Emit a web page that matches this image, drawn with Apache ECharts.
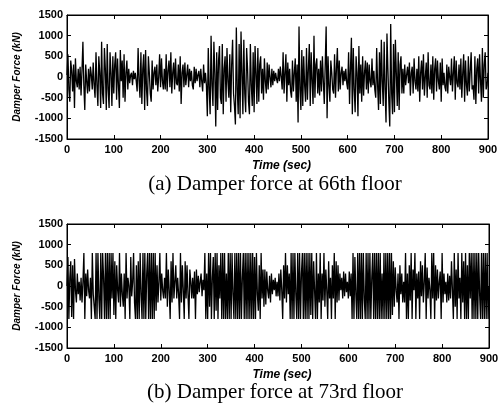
<!DOCTYPE html>
<html>
<head>
<meta charset="utf-8">
<script src="https://cdn.jsdelivr.net/npm/echarts@6/dist/echarts.min.js"></script>
<style>
  html, body { margin: 0; padding: 0; background: #fff; }
  #chart { width: 503px; height: 403px; }
</style>
</head>
<body>
<div id="chart"></div>
<script>
// sample step of the records (sec)
var dt = 2
var xTicks = [0, 100, 200, 300, 400, 500, 600, 700, 800, 900]
var yTicks = [-1500, -1000, -500, 0, 500, 1000, 1500]
var captions = ['(a) Damper force at 66th floor', '(b) Damper force at 73rd floor']

// damper force (kN), 66th floor, every 2 s (one row = 30 s)
var force66 = [
  50, 550, -300, -600, 400, 150, -350, 300, -750, 450, -100, -250, 200, -300, 250,
  -450, 150, 850, -200, -800, 300, -100, -400, 200, -350, 250, 50, -300, 350, -200,
  -500, 600, -200, -700, 500, 100, -750, 850, -400, -650, 700, 200, -800, 800, -300,
  -750, 600, 100, -700, 500, -400, 300, 600, -550, 450, -200, -750, 650, -100, 400,
  -500, 550, -600, 100, 400, -300, 200, -150, 50, 100, -200, 150, -50, 100, -100,
  -350, 700, -100, -500, 600, -650, 200, 550, -800, 650, -300, -700, 500, 100, -400,
  -600, 400, -300, 100, 250, -200, 300, -350, 0, 550, -250, 450, -100, -300, 200,
  -300, 550, -350, 150, 400, -250, 600, -400, 100, 350, -300, 450, -150, -200, 300,
  -350, 500, -650, 100, 300, -250, 350, -200, 50, 300, -250, 200, -100, 150, -200,
  -300, 250, -150, 200, -100, 50, 150, -250, 200, -100, -350, 300, -150, 100, -200,
  -950, 700, -300, -900, 1000, -200, -700, 850, 100, -1200, 600, -800, 400, 750, -500,
  -650, 800, -900, 200, 500, -600, 700, -100, -500, 550, -850, 300, 900, -400, -700,
  -1150, 1200, -300, -900, 800, -1000, 1100, 100, -900, 900, -400, -850, 700, 200, -600,
  -900, 800, -200, -700, 600, -850, 750, 100, -650, 700, -600, 300, 500, -400, 200,
  -550, 450, -100, -400, 350, -300, 300, 0, -250, 200, -200, 150, -100, 100, -50,
  -150, 200, -100, 250, 0, -300, 600, -400, 100, 550, -600, 350, -200, 200, -350,
  -500, 400, -350, 100, 450, -600, 300, -1100, 1220, -300, -800, 650, -700, 500, -200,
  -600, 700, -550, 200, 800, -700, 600, -100, -650, 1000, -500, 300, 450, -400, 200,
  -450, 400, -350, 500, -100, -650, 300, 1220, -1000, 500, -200, -600, 400, 100, -300,
  -400, 550, -500, 200, 700, -350, 400, -300, 100, 250, -200, 150, -100, 200, -150,
  -300, 600, -650, 200, 950, -900, 700, -300, -850, 500, 100, -950, 750, -400, 300,
  -600, 500, -450, 100, 400, -300, 350, -400, 300, -100, -250, 450, -200, 150, -300,
  -500, 700, -200, -800, 600, -650, 900, -100, -700, 850, -300, -1100, 1050, 200, -600,
  -1200, 1280, -400, -900, 800, -850, 900, 100, -700, 600, -800, 300, 500, -400, 200,
  -400, 300, -200, 50, 250, -150, 350, -450, 100, 250, -400, 450, -100, -300, 200,
  -350, 500, -600, 100, 400, -300, 550, -450, 0, 350, -500, 600, -200, -300, 300,
  -400, 500, -550, 200, 450, -350, 400, -100, -300, 350, -600, 450, -200, 100, -250,
  -350, 300, -400, 250, 0, -200, 450, -350, 100, 500, -550, 400, -150, -250, 300,
  -300, 450, -500, 100, 550, -600, 400, -200, -450, 500, -350, 150, 600, -300, -200,
  -550, 500, -650, 200, 450, -400, 550, -100, -600, 700, -500, 300, 600, -300, -200,
  100
]

// damper force (kN), 73rd floor, saturates near +/-800
var force73 = [
  0, 700, -800, 200, 600, -750, 500, -800, 650, -100, -400, 300, -200, 100, -350,
  200, -400, 100, 800, -800, 300, -250, 400, -100, -300, 200, -800, 800, -200, -500,
  -800, 800, -800, 800, -300, -800, 800, -800, 800, 200, -800, 800, -800, 800, -800,
  800, -800, 800, -300, 800, -700, 600, -800, 500, -100, -400, 800, -500, 300, -200,
  -500, 300, -800, 800, -300, 200, 0, -800, 700, -250, 100, 800, -400, -800, 500,
  -800, 600, -800, 800, -200, -800, 800, -800, 800, -800, 300, 800, -800, 800, -800,
  800, -800, 800, -800, 800, -600, 500, -400, 100, 800, -350, 300, -100, -300, 200,
  -300, 800, -500, 400, -100, -800, 600, -400, 800, -300, 100, 500, -300, 200, -200,
  -800, 800, -400, 500, -100, -800, 600, -300, 500, -200, -800, 400, 100, -300, 200,
  -300, 350, -800, 400, -200, 250, -150, 100, 300, -250, 150, -100, 800, -800, 300,
  -800, 800, -500, 800, -800, 200, 700, -800, 800, -600, 800, -800, 500, -300, 800,
  -800, 800, -800, 800, -800, 300, -800, 800, -800, 800, -800, 800, -200, -800, 800,
  -800, 800, -800, 800, -800, 800, -800, 200, 800, -800, 800, -800, 800, -800, 800,
  -800, 800, -800, 800, -800, 700, -800, 800, -200, -600, 500, -800, 800, -300, 400,
  -500, 400, -450, 350, -100, -300, 250, -400, 300, -200, 150, -100, 200, -250, 100,
  -250, 300, -350, 400, -100, -800, 500, -300, 800, -400, 500, -200, 300, -800, 800,
  -800, 800, -800, 800, -200, -800, 800, -800, 800, -800, 300, 800, -800, 800, -800,
  800, -800, 800, -800, 800, -700, 800, -800, 600, -100, -800, 800, -800, 300, -400,
  800, -800, 300, -350, 800, -500, 400, -100, -800, 600, -300, 200, -800, 500, -300,
  800, -800, 600, -400, 500, -350, 300, -100, 200, -300, 350, -250, 300, -150, 100,
  -300, 350, -250, 300, -800, 800, -800, 700, -200, -800, 800, -800, 800, -800, 800,
  -800, 800, -300, -800, 800, -800, 800, -800, 800, -800, 200, 800, -800, 800, -800,
  800, -800, 800, -800, 800, -800, 300, -800, 800, -800, 800, -800, 800, -800, 800,
  -800, 800, -700, 600, -500, 450, -100, -400, 300, -800, 500, -200, 300, -400, 100,
  -400, 800, -800, 300, -800, 500, -350, 800, -800, 400, -100, 800, -800, 300, -300,
  350, -800, 600, -250, 500, -400, 100, 800, -800, 450, -300, 200, -100, -800, 800,
  -300, 800, -800, 500, -350, 400, -300, 100, 350, -800, 800, -400, 300, -200, 100,
  -400, 300, -350, 250, -300, 600, -100, -800, 800, -500, 400, -800, 800, -300, 200,
  -800, 800, -400, 600, -800, 800, -800, 500, -800, 800, -300, 800, -800, 800, -800,
  800, -800, 800, -800, 800, -200, -800, 800, -800, 800, -800, 800, -800, 800, -800,
  0
]

function pairs(values) {
  return values.map(function (v, i) { return [i * dt, v] })
}

var chart = echarts.init(document.getElementById('chart'))

var grids = [
  { left: 67, top: 15, width: 421, height: 124 },
  { left: 67, top: 224, width: 422, height: 124 }
]

var tickFont = { color: '#000', fontFamily: 'Liberation Sans', fontWeight: 'bold', fontSize: 11 }
var nameFont = { color: '#000', fontFamily: 'Liberation Sans', fontWeight: 'bold', fontStyle: 'italic' }
var plain = function (v) { return String(v) }

var xAxes = [], yAxes = []
grids.forEach(function (g, k) {
  g.show = true
  g.borderColor = '#000'
  g.borderWidth = 1
  g.backgroundColor = '#fff'
  // bottom axis with labels
  xAxes.push({
    gridIndex: k, type: 'value', min: xTicks[0], max: xTicks[xTicks.length - 1], interval: 100,
    name: 'Time (sec)', nameLocation: 'middle', nameGap: 21,
    nameTextStyle: Object.assign({ fontSize: 12, padding: [0, 0, 0, 8] }, nameFont),
    axisLine: { show: true, onZero: false, lineStyle: { color: '#000', width: 1 } },
    axisTick: { inside: true, length: 4, lineStyle: { color: '#000' } },
    axisLabel: Object.assign({ margin: 5, formatter: plain }, tickFont),
    splitLine: { show: false }
  })
  // top axis, ticks only
  xAxes.push({
    gridIndex: k, type: 'value', position: 'top', min: 0, max: 900, interval: 100,
    axisLine: { show: true, onZero: false, lineStyle: { color: '#000', width: 1 } },
    axisTick: { inside: true, length: 4, lineStyle: { color: '#000' } },
    axisLabel: { show: false }, splitLine: { show: false }
  })
  yAxes.push({
    gridIndex: k, type: 'value', min: yTicks[0], max: yTicks[yTicks.length - 1], interval: 500,
    name: 'Damper Force (kN)', nameLocation: 'middle', nameGap: 45,
    nameTextStyle: Object.assign({ fontSize: 10 }, nameFont),
    axisLine: { show: true, onZero: false, lineStyle: { color: '#000', width: 1 } },
    axisTick: { inside: true, length: 4, lineStyle: { color: '#000' } },
    axisLabel: Object.assign({ margin: 4, formatter: plain }, tickFont),
    splitLine: { show: false }
  })
  // right axis, ticks only
  yAxes.push({
    gridIndex: k, type: 'value', position: 'right', min: -1500, max: 1500, interval: 500,
    axisLine: { show: true, onZero: false, lineStyle: { color: '#000', width: 1 } },
    axisTick: { inside: true, length: 4, lineStyle: { color: '#000' } },
    axisLabel: { show: false }, splitLine: { show: false }
  })
})

var lineSeries = function (values, k) {
  return {
    type: 'line', xAxisIndex: k * 2, yAxisIndex: k * 2,
    data: pairs(values), showSymbol: false, sampling: null,
    lineStyle: { color: '#000', width: 1.3 }, silent: true
  }
}

chart.setOption({
  animation: false,
  backgroundColor: '#fff',
  grid: grids,
  xAxis: xAxes,
  yAxis: yAxes,
  series: [lineSeries(force66, 0), lineSeries(force73, 1)],
  graphic: [
    { type: 'text', x: 275, y: 184, style: { text: captions[0], textAlign: 'center', textVerticalAlign: 'middle', fill: '#000', font: '21px "Liberation Serif"' } },
    { type: 'text', x: 275, y: 392, style: { text: captions[1], textAlign: 'center', textVerticalAlign: 'middle', fill: '#000', font: '21px "Liberation Serif"' } }
  ]
})

window.addEventListener('resize', () => {
  chart.resize()
})
</script>
</body>
</html>
